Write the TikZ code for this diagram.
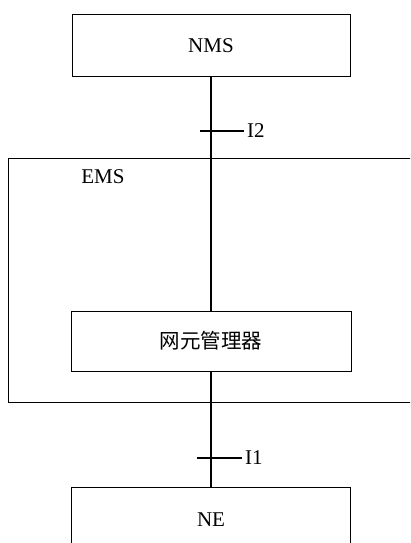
\documentclass[tikz,border=0pt]{standalone}
\usepackage{fontspec}
\setmainfont{Liberation Serif}
\newfontfamily\cjk{Noto Sans CJK SC}
\begin{document}
\begin{tikzpicture}[x=1pt,y=-1pt,
  box/.style={draw, line width=1pt, inner sep=0pt, font=\fontsize{21}{23}\selectfont},
  link/.style={line width=1.5pt},
  tick/.style={line width=1.2pt},
  lbl/.style={anchor=west, inner sep=3pt, font=\fontsize{21}{23}\selectfont}]
\clip (0,0) rectangle (410,543);
\fill[white] (0,0) rectangle (410,543);
% EMS container (open to the right)
\node[box, minimum width=432pt, minimum height=244pt] (ems) at (224,280) {};
\node[font=\fontsize{21}{23}\selectfont, inner sep=0pt] (emslbl) at (103,177) {EMS};
% boxes
\node[box, minimum width=278pt, minimum height=61pt] (nms) at (211,45.5) {NMS};
\node[box, minimum width=280pt, minimum height=60pt, font=\cjk\fontsize{20.5}{23}\selectfont] (mgr) at (211,341) {网元管理器};
\node[box, minimum width=279pt, minimum height=70pt] (ne) at (211,522) {};
\node[font=\fontsize{21}{23}\selectfont, inner sep=0pt] (netxt) at (211,520) {NE};
% connectors
\draw[link] (nms.south) -- (mgr.north);
\draw[link] (mgr.south) -- (ne.north);
% interface ticks
\coordinate (t2) at (200,131);
\node[lbl] (i2) at (244,131) {I2};
\draw[tick] (t2) -- (i2.west);
\coordinate (t1) at (197,458);
\node[lbl] (i1) at (242,458) {I1};
\draw[tick] (t1) -- (i1.west);
\end{tikzpicture}
\end{document}
